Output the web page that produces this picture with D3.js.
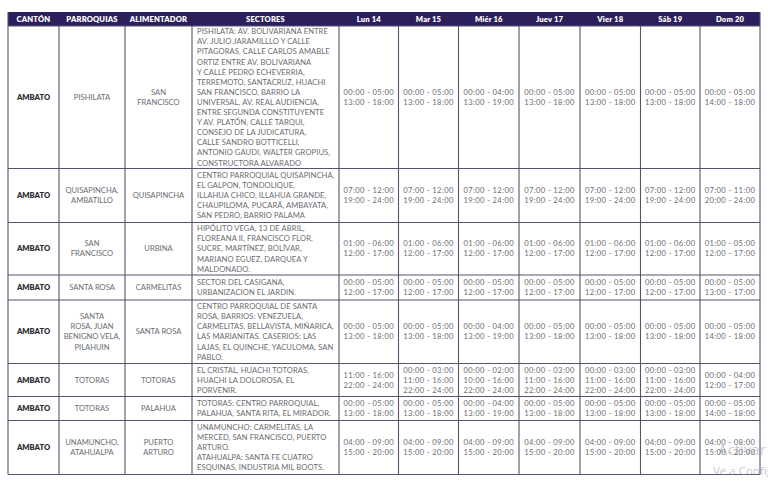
<!DOCTYPE html>
<html>
<head>
<meta charset="utf-8">
<script src="https://cdn.jsdelivr.net/npm/d3@7"></script>
<style>
  html, body { margin: 0; padding: 0; background: #fff; overflow: hidden; }
  svg { display: block; }
  text { font-family: Lato, "Open Sans", sans-serif; }
</style>
</head>
<body>
<div id="chart"></div>
<script>
// ---------------- data ----------------
var headers = ['CANTÓN', 'PARROQUIAS', 'ALIMENTADOR', 'SECTORES'];
var dias = ['Lun 14', 'Mar 15', 'Miér 16', 'Juev 17', 'Vier 18', 'Sáb 19', 'Dom 20'];

var cantones = ['AMBATO', 'AMBATO', 'AMBATO', 'AMBATO', 'AMBATO', 'AMBATO', 'AMBATO', 'AMBATO'];

var parroquias = [
	'PISHILATA',
	'QUISAPINCHA,\nAMBATILLO',
	'SAN\nFRANCISCO',
	'SANTA ROSA',
	'SANTA\nROSA, JUAN\nBENIGNO VELA,\nPILAHUIN',
	'TOTORAS',
	'TOTORAS',
	'UNAMUNCHO,\nATAHUALPA'
];

var alimentadores = [
	'SAN\nFRANCISCO', 'QUISAPINCHA', 'URBINA', 'CARMELITAS',
	'SANTA ROSA', 'TOTORAS', 'PALAHUA', 'PUERTO\nARTURO'
];

var sectores = [
	'PISHILATA: AV. BOLIVARIANA ENTRE\nAV. JULIO JARAMILLLO Y CALLE\nPITAGORAS, CALLE CARLOS AMABLE\nORTIZ ENTRE AV. BOLIVARIANA\nY CALLE PEDRO ECHEVERRIA,\nTERREMOTO, SANTACRUZ, HUACHI\nSAN FRANCISCO, BARRIO LA\nUNIVERSAL, AV. REAL AUDIENCIA,\nENTRE SEGUNDA CONSTITUYENTE\nY AV. PLATÓN, CALLE TARQUI,\nCONSEJO DE LA JUDICATURA,\nCALLE SANDRO BOTTICELLI,\nANTONIO GAUDI, WALTER GROPIUS,\nCONSTRUCTORA ALVARADO',
	'CENTRO PARROQUIAL QUISAPINCHA,\nEL GALPON, TONDOLIQUE,\nILLAHUA CHICO, ILLAHUA GRANDE,\nCHAUPILOMA, PUCARÁ, AMBAYATA,\nSAN PEDRO, BARRIO PALAMA',
	'HIPÓLITO VEGA, 13 DE ABRIL,\nFLOREANA II, FRANCISCO FLOR,\nSUCRE, MARTÍNEZ, BOLÍVAR,\nMARIANO EGUEZ, DARQUEA Y\nMALDONADO.',
	'SECTOR DEL CASIGANA,\nURBANIZACION EL JARDIN.',
	'CENTRO PARROQUIAL DE SANTA\nROSA, BARRIOS: VENEZUELA,\nCARMELITAS, BELLAVISTA, MIÑARICA,\nLAS MARIANITAS.  CASERIOS: LAS\nLAJAS, EL QUINCHE, YACULOMA, SAN\nPABLO.',
	'EL CRISTAL, HUACHI TOTORAS,\nHUACHI LA DOLOROSA, EL\nPORVENIR.',
	'TOTORAS: CENTRO PARROQUIAL,\nPALAHUA, SANTA RITA, EL MIRADOR.',
	'UNAMUNCHO: CARMELITAS, LA\nMERCED, SAN FRANCISCO, PUERTO\nARTURO.\nATAHUALPA: SANTA FE CUATRO\nESQUINAS, INDUSTRIA MIL BOOTS.'
];

// one list per row, one entry per day (Lun .. Dom)
var horarios = [
	['00:00 - 05:00\n13:00 - 18:00', '00:00 - 05:00\n13:00 - 18:00', '00:00 - 04:00\n13:00 - 19:00', '00:00 - 05:00\n13:00 - 18:00', '00:00 - 05:00\n13:00 - 18:00', '00:00 - 05:00\n13:00 - 18:00', '00:00 - 05:00\n14:00 - 18:00'],
	['07:00 - 12:00\n19:00 - 24:00', '07:00 - 12:00\n19:00 - 24:00', '07:00 - 12:00\n19:00 - 24:00', '07:00 - 12:00\n19:00 - 24:00', '07:00 - 12:00\n19:00 - 24:00', '07:00 - 12:00\n19:00 - 24:00', '07:00 - 11:00\n20:00 - 24:00'],
	['01:00 - 06:00\n12:00 - 17:00', '01:00 - 06:00\n12:00 - 17:00', '01:00 - 06:00\n12:00 - 17:00', '01:00 - 06:00\n12:00 - 17:00', '01:00 - 06:00\n12:00 - 17:00', '01:00 - 06:00\n12:00 - 17:00', '01:00 - 05:00\n12:00 - 17:00'],
	['00:00 - 05:00\n12:00 - 17:00', '00:00 - 05:00\n12:00 - 17:00', '00:00 - 05:00\n12:00 - 17:00', '00:00 - 05:00\n12:00 - 17:00', '00:00 - 05:00\n12:00 - 17:00', '00:00 - 05:00\n12:00 - 17:00', '00:00 - 05:00\n13:00 - 17:00'],
	['00:00 - 05:00\n13:00 - 18:00', '00:00 - 05:00\n13:00 - 18:00', '00:00 - 04:00\n13:00 - 19:00', '00:00 - 05:00\n13:00 - 18:00', '00:00 - 05:00\n13:00 - 18:00', '00:00 - 05:00\n13:00 - 18:00', '00:00 - 05:00\n14:00 - 18:00'],
	['11:00 - 16:00\n22:00 - 24:00', '00:00 - 03:00\n11:00 - 16:00\n22:00 - 24:00', '00:00 - 02:00\n10:00 - 16:00\n22:00 - 24:00', '00:00 - 03:00\n11:00 - 16:00\n22:00 - 24:00', '00:00 - 03:00\n11:00 - 16:00\n22:00 - 24:00', '00:00 - 03:00\n11:00 - 16:00\n22:00 - 24:00', '00:00 - 04:00\n12:00 - 17:00'],
	['00:00 - 05:00\n13:00 - 18:00', '00:00 - 05:00\n13:00 - 18:00', '00:00 - 04:00\n13:00 - 19:00', '00:00 - 05:00\n13:00 - 18:00', '00:00 - 05:00\n13:00 - 18:00', '00:00 - 05:00\n13:00 - 18:00', '00:00 - 05:00\n14:00 - 18:00'],
	['04:00 - 09:00\n15:00 - 20:00', '04:00 - 09:00\n15:00 - 20:00', '04:00 - 09:00\n15:00 - 20:00', '04:00 - 09:00\n15:00 - 20:00', '04:00 - 09:00\n15:00 - 20:00', '04:00 - 09:00\n15:00 - 20:00', '04:00 - 08:00\n15:00 - 20:00']
];

// ---------------- layout ----------------
var width = 768;
var height = 489;
var header_top = 12;
var header_bottom = 26;
// column edges (px)
var col_edges = [8, 59, 125, 192, 339, 398.5, 458.5, 519, 580, 640.5, 700, 760];
// row edges (px), one more than the number of rows
var row_edges = [26, 168.5, 222.5, 275, 300, 363.5, 396.5, 420.5, 474.5];

var line_h = 10.1;
var font_size = 7.6;
var text_color = '#6c6c72';
var grid_color = '#57526e';
var head_fill = '#2c1f5c';

var svg = d3.select('#chart').append('svg')
	.attr('width', width)
	.attr('height', height);

var rowIndex = d3.range(cantones.length);

// header bar
svg.append('rect')
	.attr('x', col_edges[0])
	.attr('y', header_top)
	.attr('width', col_edges[col_edges.length - 1] - col_edges[0])
	.attr('height', header_bottom - header_top)
	.attr('fill', head_fill);

var headLabels = headers.concat(dias);
svg.selectAll('.head')
	.data(headLabels)
	.enter().append('text')
	.attr('class', 'head')
	.attr('x', function (d, i) { return (col_edges[i] + col_edges[i + 1]) / 2; })
	.attr('y', (header_top + header_bottom) / 2)
	.attr('dy', '0.35em')
	.attr('text-anchor', 'middle')
	.attr('fill', '#fff')
	.style('font-weight', 800)
	.style('font-size', '7.6px')
	.style('letter-spacing', '0.15px')
	.text(function (d) { return d; });

// multi-line text helper, vertically centred in a row
function multiText(g, str, x, rowI, anchor, opts) {
	var lines = str.split('\n');
	var cy = (row_edges[rowI] + row_edges[rowI + 1]) / 2;
	var y0 = cy - (lines.length - 1) * line_h / 2;
	var t = g.append('text')
		.attr('text-anchor', anchor)
		.attr('fill', opts.color || text_color)
		.style('font-size', font_size + 'px')
		.style('font-weight', opts.weight || 400)
		.style('letter-spacing', (opts.spacing || 0) + 'px');
	t.selectAll('tspan')
		.data(lines)
		.enter().append('tspan')
		.attr('x', x)
		.attr('y', function (d, i) { return y0 + i * line_h; })
		.attr('dy', '0.35em')
		.text(function (d) { return d; });
}

var body = svg.append('g');

rowIndex.forEach(function (r) {
	multiText(body, cantones[r], (col_edges[0] + col_edges[1]) / 2, r, 'middle', {color: '#2e2e33', weight: 800});
	multiText(body, parroquias[r], (col_edges[1] + col_edges[2]) / 2, r, 'middle', {});
	multiText(body, alimentadores[r], (col_edges[2] + col_edges[3]) / 2, r, 'middle', {});
	multiText(body, sectores[r], col_edges[3] + 5, r, 'start', {spacing: 0.08});
	horarios[r].forEach(function (h, j) {
		multiText(body, h, (col_edges[4 + j] + col_edges[5 + j]) / 2, r, 'middle', {spacing: 0.35});
	});
});

// grid lines
var grid = svg.append('g')
	.attr('stroke', grid_color)
	.attr('stroke-width', 1.1);

grid.selectAll('.hline')
	.data(row_edges)
	.enter().append('line')
	.attr('x1', col_edges[0])
	.attr('x2', col_edges[col_edges.length - 1])
	.attr('y1', function (d) { return d; })
	.attr('y2', function (d) { return d; });

grid.selectAll('.vline')
	.data(col_edges)
	.enter().append('line')
	.attr('x1', function (d) { return d; })
	.attr('x2', function (d) { return d; })
	.attr('y1', function (d, i) { return (i == 0 || i == col_edges.length - 1) ? header_top : header_bottom; })
	.attr('y2', row_edges[row_edges.length - 1]);

// windows watermark (cut off by the window edge, as in the screenshot)
svg.append('text')
	.attr('x', 718)
	.attr('y', 455)
	.attr('fill', 'rgba(140,140,150,0.45)')
	.style('font-family', '"Open Sans", sans-serif')
	.style('font-size', '15px')
	.text('Activar Windows');
svg.append('text')
	.attr('x', 713)
	.attr('y', 475)
	.attr('fill', 'rgba(140,140,150,0.5)')
	.style('font-family', '"Open Sans", sans-serif')
	.style('font-size', '11.5px')
	.text('Ve a Configuración para activar Windows.');
</script>
</body>
</html>
